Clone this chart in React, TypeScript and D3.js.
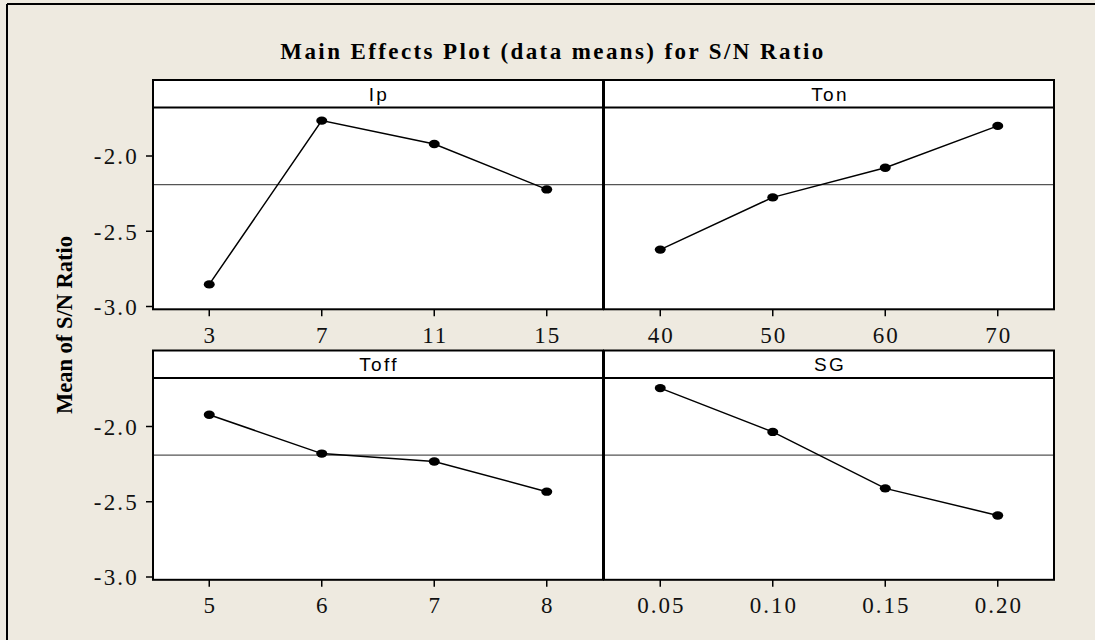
import React from 'react';
import * as d3 from 'd3';

const W = 1095;
const H = 640;

// facteurs et moyennes
const factorNames = ['Ip', 'Ton', 'Toff', 'SG'];
const ipLevels = ['3', '7', '11', '15'];
const ipMeans = [-2.853, -1.765, -1.92, -2.222];
const tonLevels = ['40', '50', '60', '70'];
const tonMeans = [-2.622, -2.275, -2.078, -1.8];
const toffLevels = ['5', '6', '7', '8'];
const toffMeans = [-1.922, -2.18, -2.233, -2.433];
const sgLevels = ['0.05', '0.10', '0.15', '0.20'];
const sgMeans = [-1.745, -2.036, -2.411, -2.591];
const grandMean = -2.19;
const yTicks = [-3.0, -2.5, -2.0];

const levelsList = [ipLevels, tonLevels, toffLevels, sgLevels];
const meansList = [ipMeans, tonMeans, toffMeans, sgMeans];

const colX = [153, 604];
const colW = 450;
const rowY = [80, 350.5];
const panelH = 229.3;
const stripH = 27.5;

const serif = '"Liberation Serif", "Times New Roman", serif';
const sans = '"Liberation Sans", Arial, sans-serif';

const Panel = ({ idx }: { idx: number }) => {
  const col = idx % 2;
  const row = Math.floor(idx / 2);
  const x0 = colX[col];
  const top = rowY[row];
  const bottom = top + panelH;
  const levels = levelsList[idx];
  const means = meansList[idx];

  const x = d3.scalePoint<string>().domain(levels).range([x0, x0 + colW]).padding(0.5);
  const y = d3.scaleLinear().domain([-3.0, -2.0]).range([top + 226.5, top + 76]);

  const pts = levels.map((l, i) => [x(l) as number, y(means[i])] as [number, number]);
  const line = d3.line()(pts) || '';

  return (
    <g>
      <rect x={x0} y={top} width={colW} height={panelH} fill="#fff" stroke="none" />
      <line x1={x0} x2={x0 + colW} y1={y(grandMean)} y2={y(grandMean)} stroke="#555" strokeWidth={1.3} />
      <path d={line} fill="none" stroke="#000" strokeWidth={1.5} />
      {pts.map((p, i) => (
        <ellipse key={i} cx={p[0]} cy={p[1]} rx={5.5} ry={4.2} fill="#000" />
      ))}
      <line x1={x0} x2={x0 + colW} y1={top + stripH} y2={top + stripH} stroke="#000" strokeWidth={2} />
      <rect x={x0} y={top} width={colW} height={panelH} fill="none" stroke="#000" strokeWidth={2} />
      <text
        x={x0 + colW / 2 + 1}
        y={top + 20.8}
        textAnchor="middle"
        fontFamily={sans}
        fontSize={19}
        letterSpacing={2.3}
        fill="#000"
      >
        {factorNames[idx]}
      </text>
      {levels.map((l) => (
        <g key={l}>
          <line x1={x(l)} x2={x(l)} y1={bottom} y2={bottom + 7} stroke="#000" strokeWidth={1.5} />
          <text
            x={(x(l) as number) + 1}
            y={bottom + 33.5}
            textAnchor="middle"
            fontFamily={serif}
            fontSize={23}
            letterSpacing={2}
            fill="#111"
          >
            {l}
          </text>
        </g>
      ))}
      {col === 0 &&
        yTicks.map((t) => (
          <g key={t}>
            <line x1={x0 - 7} x2={x0} y1={y(t)} y2={y(t)} stroke="#000" strokeWidth={1.5} />
            <text
              x={x0 - 14}
              y={y(t)}
              dy="0.36em"
              textAnchor="end"
              fontFamily={serif}
              fontSize={23}
              letterSpacing={2.2}
              fill="#111"
            >
              {t.toFixed(1)}
            </text>
          </g>
        ))}
    </g>
  );
};

export default function App() {
  return (
    <svg
      width={W}
      height={H}
      style={{ position: 'absolute', left: 0, top: 0, display: 'block' }}
    >
      <rect x={0} y={0} width={W} height={H} fill="#EEEAE0" />
      <line x1={7} x2={W} y1={4} y2={4} stroke="#000" strokeWidth={2} />
      <line x1={7} x2={7} y1={4} y2={H} stroke="#000" strokeWidth={2} />
      <text
        x={553}
        y={58.5}
        textAnchor="middle"
        fontFamily={serif}
        fontWeight="bold"
        fontSize={23}
        letterSpacing={2.4}
        fill="#000"
      >
        Main Effects Plot (data means) for S/N Ratio
      </text>
      <text
        transform="translate(72, 325) rotate(-90)"
        textAnchor="middle"
        fontFamily={serif}
        fontWeight="bold"
        fontSize={22.5}
        fill="#000"
      >
        Mean of S/N Ratio
      </text>
      {factorNames.map((f, i) => (
        <Panel key={f} idx={i} />
      ))}
    </svg>
  );
}
